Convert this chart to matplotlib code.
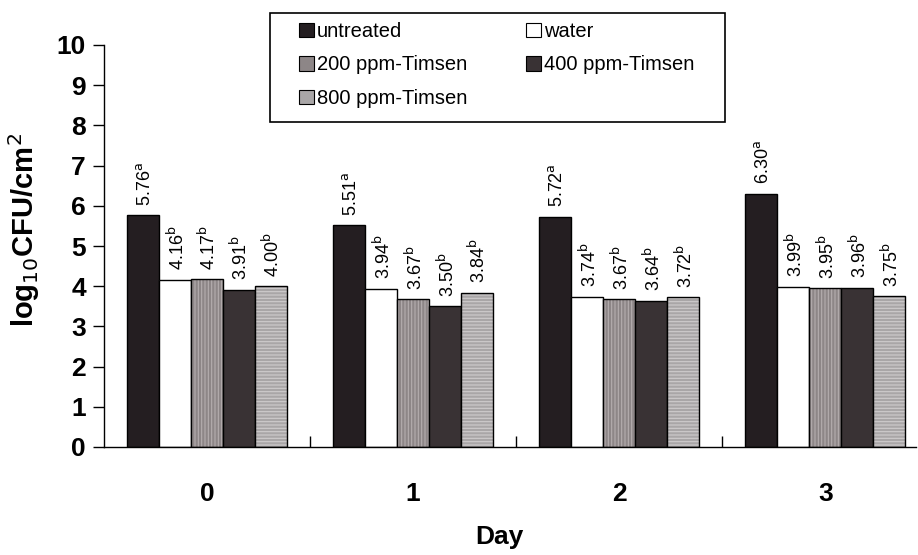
import numpy as np
import matplotlib
matplotlib.use('Agg')
from matplotlib import pyplot as plt
from matplotlib.patches import Patch, Rectangle

plt.rcParams['font.family'] = ['Liberation Sans', 'DejaVu Sans']
plt.rcParams['hatch.linewidth'] = 0.8

days = ['0', '1', '2', '3']
treatments = ['untreated', 'water', '200 ppm-Timsen', '400 ppm-Timsen', '800 ppm-Timsen']
untreated = [5.76, 5.51, 5.72, 6.30]
water = [4.16, 3.94, 3.74, 3.99]
ppm200 = [4.17, 3.67, 3.67, 3.95]
ppm400 = [3.91, 3.50, 3.64, 3.96]
ppm800 = [4.00, 3.84, 3.72, 3.75]
letters_untreated = ['a', 'a', 'a', 'a']
letters_other = ['b', 'b', 'b', 'b']

series = [untreated, water, ppm200, ppm400, ppm800]
letters = [letters_untreated] + [letters_other] * 4

# fill colour, hatch, hatch colour
styles = [
    ('#241e21', '', '#241e21'),
    ('#ffffff', '', '#ffffff'),
    ('#8d8687', '|||||', '#b5aeaf'),
    ('#393234', '', '#393234'),
    ('#a9a6a7', '-----', '#cfcccd'),
]

fig = plt.figure(figsize=(9.18, 5.55), dpi=100)
ax = fig.add_axes([104/918, 108/555, 812/918, 402/555])

x = np.arange(len(days))
width = 0.155
for i, vals in enumerate(series):
    pos = x + (i - 2) * width
    fc, hatch, hc = styles[i]
    ax.bar(pos, vals, width, color=fc, hatch=hatch, edgecolor=hc, linewidth=0)
    ax.bar(pos, vals, width, facecolor='none', edgecolor='black', linewidth=1.0)
    for p, v, l in zip(pos, vals, letters[i]):
        ax.text(p + 0.008, v + 0.24, f'{v:.2f}' + r'$^{\mathrm{' + l + '}}$',
                rotation=90, ha='center', va='bottom', fontsize=13)

ax.set_xlim(-0.5, 3.44)
ax.set_ylim(0, 10)
ax.set_yticks(range(0, 11))
ax.spines['top'].set_visible(False)
ax.spines['right'].set_visible(False)
ax.spines['left'].set_linewidth(1.0)
ax.spines['bottom'].set_linewidth(1.0)

ax.set_xticks(x)
ax.set_xticklabels(days)
ax.set_xticks([0.5, 1.5, 2.5], minor=True)
ax.tick_params(axis='x', which='major', length=0, pad=25, labelsize=19)
ax.tick_params(axis='x', which='minor', direction='in', length=8, width=1)
ax.tick_params(axis='y', direction='out', length=8, width=1, labelsize=19, pad=5)
for lab in ax.get_xticklabels() + ax.get_yticklabels():
    lab.set_fontweight('bold')

ax.set_ylabel(r'log$_{10}$CFU/cm$^{2}$', fontsize=21, fontweight='bold')
ax.yaxis.set_label_coords(-0.0765, 0.54)
ax.set_xlabel('Day', fontsize=19, fontweight='bold')
ax.xaxis.set_label_coords(0.487, -0.195)

# legend box drawn separately so the padding can differ left/top
fig.patches.append(Rectangle((270/918, 1 - 122/555), 455/918, 109/555,
                             transform=fig.transFigure, facecolor='white',
                             edgecolor='black', linewidth=1.2, zorder=2))
handles = [Patch(facecolor=s[0], edgecolor='black', linewidth=0.8) for s in styles]
order = [0, 2, 4, 1, 3]
leg = fig.legend([handles[k] for k in order], [treatments[k] for k in order],
                 loc='upper left', ncol=2, bbox_to_anchor=(299/918, 1 - 22/555),
                 frameon=False, fontsize=14.5,
                 handlelength=0.75, handleheight=0.75, handletextpad=0.15,
                 columnspacing=2.9, labelspacing=0.72, borderaxespad=0, borderpad=0)
leg.set_zorder(3)

fig.savefig('out.png', dpi=100)
